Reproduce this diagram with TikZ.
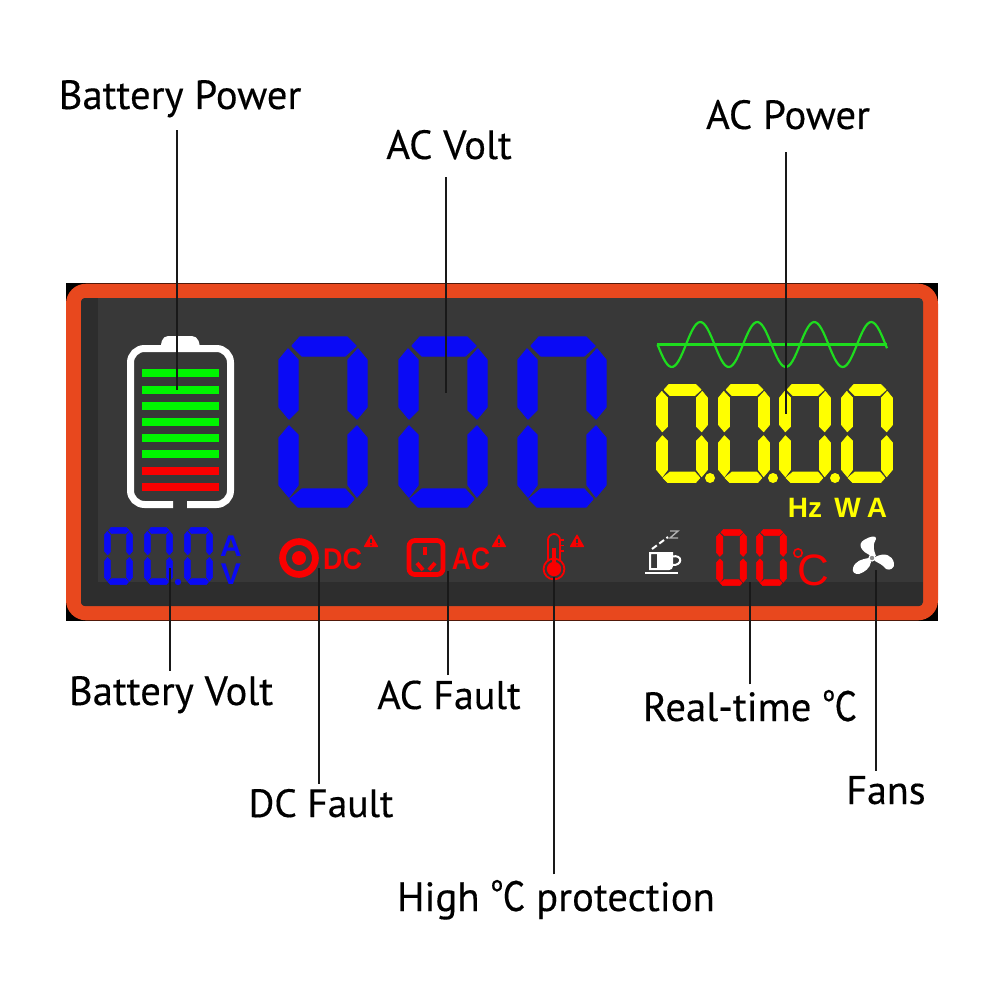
\documentclass[tikz,border=0pt]{standalone}
\usepackage{fontspec}
\setmainfont{PT Sans}[FakeBold=0.3]
\newfontfamily\boldarial[BoldFont=Liberation Sans Bold]{Liberation Sans}
\newfontfamily\cjkf{Noto Sans CJK SC}[FakeBold=0.3]
\definecolor{panelorange}{HTML}{E8481E}
\definecolor{paneldark}{HTML}{383838}
\definecolor{panelband}{HTML}{2D2D2D}
\definecolor{lcdblue}{HTML}{0A0AF5}
\definecolor{lcdgreen}{HTML}{00F500}
\definecolor{wavegreen}{HTML}{1EDC1E}
\definecolor{lcdred}{HTML}{FA0000}
\definecolor{lcdyellow}{HTML}{FFFF00}
\tikzset{
  conn/.style={draw=black!90,line width=0.8pt},
  calllabel/.style={anchor=base,inner sep=0pt,text depth=0pt,font=\fontsize{20.4}{24}\selectfont},
  boldtag/.style={anchor=base,inner sep=0pt,text depth=0pt},
}
\newcommand{\segdigit}[5]{%
\pgfmathsetmacro{\seglw}{#3/90*0.65}
\begin{scope}[shift={(#1,#2)},xscale=#3/90,yscale=#4/172,every path/.append style={fill=#5,draw=#5,line width=\seglw pt,line join=round}]
\path (14,10)--(22,1)--(69,1)--(78,10)--(67,20)--(24,20)--cycle;
\path (1,24)--(10,13)--(20,24)--(20,74)--(11,83)--(1,71)--cycle;
\path (89,24)--(80,13)--(70,24)--(70,74)--(79,83)--(89,71)--cycle;
\path (11,90)--(20,99)--(20,149)--(11,161)--(1,149)--(1,102)--cycle;
\path (79,90)--(70,99)--(70,149)--(79,161)--(89,149)--(89,102)--cycle;
\path (12,163)--(24,153)--(67,153)--(76,163)--(69,171)--(20,171)--cycle;
\end{scope}}
\newcommand{\warntri}[2]{%
\fill[lcdred,rounded corners=0.4pt] (#1,#2)--(#1+7.5,#2+13)--(#1-7.5,#2+13)--cycle;
\draw[paneldark,line width=0.7pt] (#1,#2+4.5)--(#1,#2+9);
\fill[paneldark] (#1,#2+11) circle (0.45pt);}
\newcommand{\degC}{{\cjkf\scalebox{0.85}[1]{℃}}}
\begin{document}
\begin{tikzpicture}[x=0.5pt,y=-0.5pt]
\useasboundingbox (0,0) rectangle (1000,1000);
\fill[white] (0,0) rectangle (1000,1000);
% panel
\fill[black] (66,283) rectangle (938,621);
\fill[panelorange,rounded corners=10pt] (66,283.7) rectangle (938,620.3);
\fill[paneldark,rounded corners=2pt] (81,298) rectangle (923,606);
\begin{scope}
\clip[rounded corners=2pt] (81,298) rectangle (923,606);
\fill[panelband] (81,298) rectangle (98,606);
\fill[panelband] (81,582) rectangle (923,606);
\end{scope}
% battery
\draw[white,line width=3.5pt,rounded corners=7pt] (173,504.5)--(130.5,504.5)--(130.5,348.5)--(230.5,348.5)--(230.5,504.5)--(187,504.5);
\fill[white,rounded corners=2.5pt] (160,349)--(163,336)--(197,336)--(201,349)--cycle;
\foreach \yy in {369.3,385.5,401.7,417.9,434.1,450.3} \fill[lcdgreen] (142,\yy) rectangle (219,\yy+8);
\foreach \yy in {466.5,482.7} \fill[lcdred] (142,\yy) rectangle (219,\yy+8);
% large digits
\segdigit{278}{336}{90}{172}{lcdblue}
\segdigit{398}{336}{90}{172}{lcdblue}
\segdigit{517}{336}{90}{172}{lcdblue}
% wave
\draw[wavegreen,line width=1.1pt] (657,344.5)--(887,344.5);
\draw[wavegreen,line width=1.1pt,line join=round] plot[domain=657.5:887,samples=120] (\x,{344.5+22.5*sin((\x-657.5)*6.3158)});
% yellow digits
\segdigit{656}{384}{52}{99}{lcdyellow}
\segdigit{718}{384}{52}{99}{lcdyellow}
\segdigit{779}{384}{52}{99}{lcdyellow}
\segdigit{841}{384}{52}{99}{lcdyellow}
\foreach \xx in {710,773,835} \fill[lcdyellow] (\xx,478) circle (2.5pt);
\node[boldtag,text=lcdyellow,font=\boldarial\bfseries\fontsize{14}{15}\selectfont] (tagHz) at (805,517) {Hz};
\node[boldtag,text=lcdyellow,font=\boldarial\bfseries\fontsize{14}{15}\selectfont] (tagW) at (847.5,517) {W};
\node[boldtag,text=lcdyellow,font=\boldarial\bfseries\fontsize{14}{15}\selectfont] (tagA) at (877,517) {A};
% battery volt digits
\segdigit{104}{527}{29}{58}{lcdblue}
\segdigit{144}{527}{29}{58}{lcdblue}
\segdigit{184}{527}{29}{58}{lcdblue}
\fill[lcdblue] (178,582) circle (1.6pt);
\node[boldtag,text=lcdblue,font=\boldarial\bfseries\fontsize{15}{17}\selectfont] (tagAv) at (231,556) {A};
\node[boldtag,text=lcdblue,font=\boldarial\bfseries\fontsize{15}{17}\selectfont] (tagV) at (231,584) {V};
% DC fault
\draw[lcdred,line width=3.4pt] (299,558) circle (8.2pt);
\fill[lcdred] (299,558) circle (3.5pt);
\node[boldtag,text=lcdred,font=\boldarial\bfseries\fontsize{15}{16}\selectfont,xscale=0.9,transform shape] (tagDC) at (342.5,569) {DC};
\warntri{371}{534}
% AC fault
\draw[lcdred,line width=2.4pt,rounded corners=3pt] (409,540.5) rectangle (443,574.5);
\draw[lcdred,line width=2pt] (425,547)--(425,555);
\draw[lcdred,line width=2pt] (417,563)--(423,570);
\draw[lcdred,line width=2pt] (435,563)--(429,570);
\node[boldtag,text=lcdred,font=\boldarial\bfseries\fontsize{15.5}{16}\selectfont,xscale=0.85,transform shape] (tagAC) at (471,569.5) {AC};
\warntri{499}{534}
% thermometer
\draw[lcdred,line width=0.9pt] (548,561)--(548,540) arc[start angle=180,end angle=360,radius=6]--(560,561);
\draw[lcdred,line width=0.9pt] (554,569) circle (5.2pt);
\fill[lcdred] (554,569) circle (3.6pt);
\fill[lcdred] (552,548) rectangle (556,568);
\draw[lcdred,line width=0.8pt] (561,540)--(564,540) (561,545.5)--(564,545.5) (561,551)--(564,551);
\warntri{577}{534}
% coffee cup
\draw[white,line width=1pt] (650,553)--(672,553)--(672,566) arc[start angle=0,end angle=90,radius=3]--(650,569)--cycle;
\fill[white] (657,553) rectangle (672,569);
\draw[white,line width=1pt] (672,556.5) .. controls (683,554) and (683,566) .. (672,565);
\draw[white,line width=1pt] (645,573)--(678,573);
\draw[white,line width=1pt,dash pattern=on 3pt off 1.5pt] (652,549)--(668,537);
\draw[white!70!black,line width=0.7pt] (670,531)--(678,531)--(670,538)--(678,538);
% red digits
\segdigit{716}{529}{31}{57}{lcdred}
\segdigit{756}{529}{31}{57}{lcdred}
\draw[lcdred,line width=0.8pt] (798,553) circle (2.1pt);
\node[boldtag,text=lcdred,font=\boldarial\fontsize{22}{24}\selectfont] (tagC) at (813,585) {C};
% fan
\fill[white] (872,556) .. controls (861,552) and (857,544) .. (864,540) .. controls (870,536) and (877,535) .. (876,539) .. controls (872,545) and (874,551) .. (876,556) -- cycle;
\fill[white] (875,557) .. controls (885,552) and (892,555) .. (894,563) .. controls (895,568) and (890,571) .. (886,569) .. controls (882,564) and (878,563) .. (875,561) -- cycle;
\fill[white] (869,558) .. controls (862,559) and (855,561) .. (853,568) .. controls (852,573) and (855,574) .. (859,574) .. controls (865,572) and (870,568) .. (871,562) -- cycle;
\fill[white] (872,558) circle (1.8pt);
\fill[paneldark!60!white] (872,558) circle (1.1pt);
% labels
\node[calllabel] (lbBP) at (180,109) {Battery Power};
\node[calllabel] (lbAV) at (449,159) {AC Volt};
\node[calllabel] (lbAP) at (788,129) {AC Power};
\node[calllabel] (lbBV) at (171,705) {Battery Volt};
\node[calllabel,font=\fontsize{19.7}{24}\selectfont] (lbDC) at (321,817) {DC Fault};
\node[calllabel,font=\fontsize{20}{24}\selectfont] (lbAC) at (449,709) {AC Fault};
\node[calllabel] (lbRT) at (750,721) {Real-time \degC};
\node[calllabel,font=\fontsize{20}{24}\selectfont] (lbFN) at (886,804) {Fans};
\node[calllabel] (lbHP) at (556,911) {High \degC{} protection};
% connector targets
\coordinate (tBP) at (177,390);
\coordinate (tAV) at (446,393);
\coordinate (tAP) at (786,414);
\coordinate (tBV) at (170,568);
\coordinate (tDC) at (319,568);
\coordinate (tAC) at (448,571);
\coordinate (tHP) at (554,577);
\coordinate (tRT) at (750,582);
\coordinate (tFN) at (876,570);
% connectors
\draw[conn] (tBP |- lbBP.south) ++(0,21) -- (tBP);
\draw[conn] (tAV |- lbAV.south) ++(0,18) -- (tAV);
\draw[conn] (tAP |- lbAP.south) ++(0,23) -- (tAP);
\draw[conn] (tBV |- lbBV.north) ++(0,-5) -- (tBV);
\draw[conn] (tDC |- lbDC.north) ++(0,-5) -- (tDC);
\draw[conn] (tAC |- lbAC.north) ++(0,-5) -- (tAC);
\draw[conn] (tHP |- lbHP.north) ++(0,-5) -- (tHP);
\draw[conn] (tRT |- lbRT.north) ++(0,-5) -- (tRT);
\draw[conn] (tFN |- lbFN.north) ++(0,-5) -- (tFN);
\end{tikzpicture}
\end{document}
